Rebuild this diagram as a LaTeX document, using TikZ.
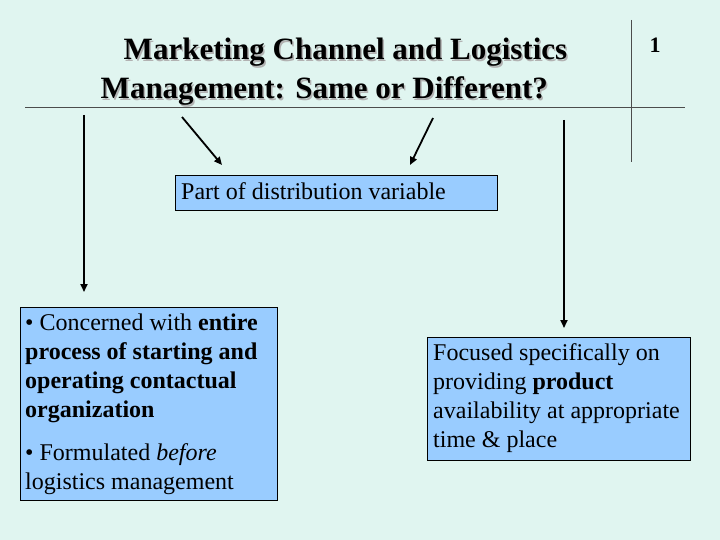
\documentclass[tikz,border=0pt]{standalone}
\usepackage{fontspec}
\setmainfont{Liberation Serif}
\usetikzlibrary{arrows.meta}
\definecolor{bg}{HTML}{E0F5F0}
\definecolor{boxb}{HTML}{99CCFF}
\begin{document}
\begin{tikzpicture}[x=1pt,y=-1pt,
  bx/.style={draw=black,fill=boxb,inner sep=0,anchor=north west},
  arr/.style={line width=1.8pt,-{Triangle[length=8pt,width=7pt]}},
  txt/.style={font=\fontsize{24}{29}\selectfont,align=left,anchor=north west,inner sep=0}]
\fill[bg] (0,0) rectangle (720,540);
\useasboundingbox (0,0) rectangle (720,540);
\node[font=\bfseries\fontsize{31}{39}\selectfont,align=left,text=gray!60] (tsh) at (335.5,73.5) {\hspace*{23pt}Marketing Channel and Logistics\\Management: Same or Different?};
\node[font=\bfseries\fontsize{31}{39}\selectfont,align=left] (title) at (334,72) {\hspace*{23pt}Marketing Channel and Logistics\\Management: Same or Different?};
\node[font=\bfseries\fontsize{22}{26}\selectfont] (num) at (655,45) {1};
\coordinate (hl) at (25,107); \coordinate (hr) at (685,107);
\coordinate (vt) at (631,20); \coordinate (vb) at (631,162);
\draw[gray!60!black] (hl) -- (hr);
\draw[gray!60!black] (vt) -- (vb);
\node[bx,minimum width=322,minimum height=35] (b1) at (175,175) {};
\node[txt] at (181,182) {Part of distribution variable};
\node[bx,minimum width=257,minimum height=193] (b2) at (20,307) {};
\node[txt] at (25,314) {• Concerned with \textbf{entire}\\\textbf{process of starting and}\\\textbf{operating contactual}\\\textbf{organization}};
\node[txt] at (25,443) {• Formulated \textit{before}\\logistics management};
\node[bx,minimum width=263,minimum height=123] (b3) at (427,337) {};
\node[txt] at (433,343) {Focused specifically on\\providing \textbf{product}\\availability at appropriate\\time \& place};
\coordinate (a1) at (182,117); \coordinate (a1e) at (222,165);
\coordinate (a2) at (433,118); \coordinate (a2e) at (410,165);
\coordinate (a3) at (84,115); \coordinate (a3e) at (84,292);
\coordinate (a4) at (564,120); \coordinate (a4e) at (564,328);
\draw[arr] (a1) -- (a1e);
\draw[arr] (a2) -- (a2e);
\draw[arr] (a3) -- (a3e);
\draw[arr] (a4) -- (a4e);
\end{tikzpicture}
\end{document}
